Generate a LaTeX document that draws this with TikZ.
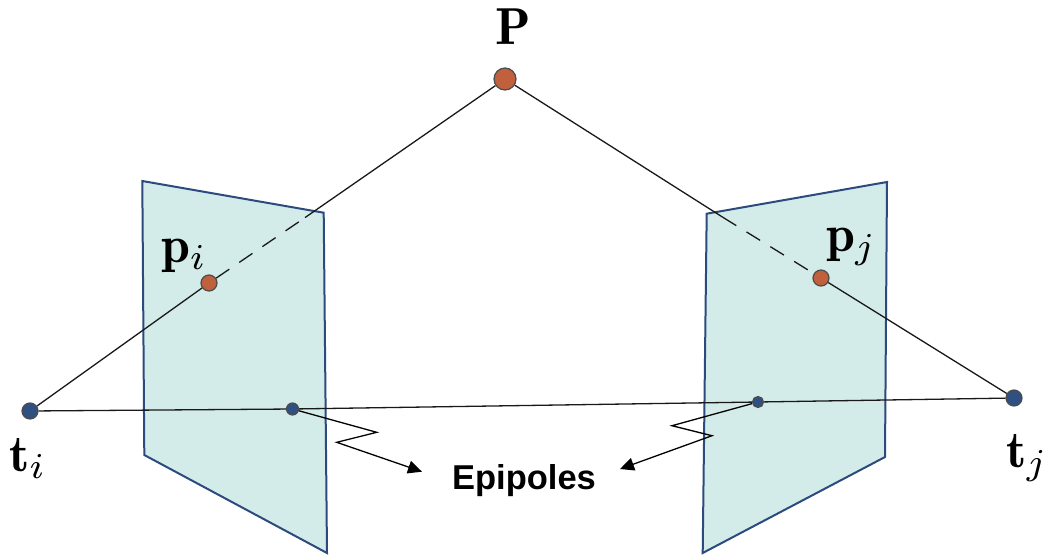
\documentclass[tikz,border=0pt]{standalone}
\usepackage{fontspec}
\newfontfamily\epifont{Liberation Sans}
\usetikzlibrary{arrows.meta}
\definecolor{planefill}{HTML}{D4ECE9}
\definecolor{planeline}{HTML}{2B4A7E}
\definecolor{redpt}{HTML}{C0603C}
\definecolor{bluept}{HTML}{2F5080}
\tikzset{
  plane/.style={fill=planefill,draw=planeline,line width=2pt,line join=miter},
  ray/.style={draw=black!90,line width=1.3pt},
  dashray/.style={ray,dash pattern=on 16pt off 12pt},
  redpoint/.style={circle,fill=redpt,draw=black!70,line width=1.2pt,inner sep=0pt,minimum size=#1},
  bluepoint/.style={circle,fill=bluept,draw=black!70,line width=1.2pt,inner sep=0pt,minimum size=#1},
  pointer/.style={draw=black,line width=1.3pt,line join=miter,-{Triangle[length=14pt,width=13pt]}},
  mathlabel/.style={inner sep=0pt,scale=5.2,text=black},
}
\begin{document}
\begin{tikzpicture}[x=1pt,y=-1pt]
\useasboundingbox (0,0) rectangle (1045,555);
% image planes
\path[plane] (142.3,181) -- (323.7,212.7) -- (327,553) -- (144.3,455) -- cycle;
\path[plane] (706.7,213.7) -- (887,182) -- (885,457) -- (702.7,553) -- cycle;
% points
\node[redpoint=22pt] (P) at (505,79) {};
\node[redpoint=16pt] (pi) at (209,283) {};
\node[redpoint=16pt] (pj) at (821,278) {};
\node[bluepoint=16pt] (ti) at (30,411) {};
\node[bluepoint=16pt] (tj) at (1014,398) {};
\node[bluepoint=12pt] (ei) at (292.5,409) {};
\node[bluepoint=11pt] (ej) at (758,402) {};
% break points of the rays and pointers
\coordinate (bi) at (305,217.6);
\coordinate (bj) at (722.7,217.2);
\coordinate (zi1) at (376.7,432.3);
\coordinate (zi2) at (336.7,442.3);
\coordinate (zj1) at (672,425.7);
\coordinate (zj2) at (712,435.7);
% text
\node[font=\epifont\bfseries,scale=3.45,inner sep=0pt] (epi) at (524,481) {Epipoles};
\coordinate (tipi) at (422,471.7);
\coordinate (tipj) at (620,469);
% rays
\draw[ray] (ti) -- (pi);
\draw[dashray] (pi) -- (bi);
\draw[ray] (bi) -- (P);
\draw[ray] (P) -- (bj);
\draw[dashray] (bj) -- (pj);
\draw[ray] (pj) -- (tj);
\draw[ray] (ti) -- (ei);
\draw[ray] (ei) -- (ej);
\draw[ray] (ej) -- (tj);
% pointers
\draw[pointer] (ei) -- (zi1) -- (zi2) -- (tipi);
\draw[pointer] (ej) -- (zj1) -- (zj2) -- (tipj);
% labels
\node[mathlabel,anchor=base] (lP) at (513,44) {$\mathbf{P}$};
\node[mathlabel,anchor=base west] (lpi) at (160,262) {$\mathbf{p}_i$};
\node[mathlabel,anchor=base west] (lpj) at (825,251) {$\mathbf{p}_j$};
\node[mathlabel,anchor=base west] (lti) at (8,471) {$\mathbf{t}_i$};
\node[mathlabel,anchor=base west] (ltj) at (1005,467) {$\mathbf{t}_j$};
\end{tikzpicture}
\end{document}
